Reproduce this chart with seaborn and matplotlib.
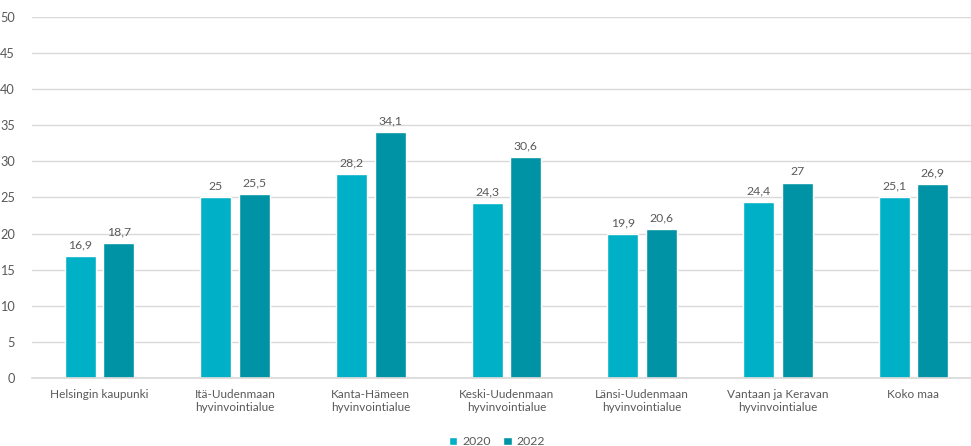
import matplotlib
matplotlib.use("Agg")
import matplotlib.pyplot as plt
import pandas as pd
import seaborn as sns

# values
regions = [
    "Helsingin kaupunki",
    "Itä-Uudenmaan\nhyvinvointialue",
    "Kanta-Hämeen\nhyvinvointialue",
    "Keski-Uudenmaan\nhyvinvointialue",
    "Länsi-Uudenmaan\nhyvinvointialue",
    "Vantaan ja Keravan\nhyvinvointialue",
    "Koko maa",
]
values_2020 = [16.9, 25.0, 28.2, 24.3, 19.9, 24.4, 25.1]
values_2022 = [18.7, 25.5, 34.1, 30.6, 20.6, 27.0, 26.9]
years = ["2020", "2022"]
y_ticks = list(range(0, 51, 5))

colors = {"2020": "#00B0C6", "2022": "#0093A5"}
text_color = "#595959"

df = pd.DataFrame({
    "region": regions * 2,
    "year": [years[0]] * len(regions) + [years[1]] * len(regions),
    "value": values_2020 + values_2022,
})

sns.set_theme(style="white")
plt.rcParams["font.family"] = ["Lato", "DejaVu Sans"]

fig = plt.figure(figsize=(9.71, 4.46), dpi=100)
# plot area runs a bit past the right edge, like the original export
ax = fig.add_axes([0.0326, 0.1525, 0.978, 0.8095])

sns.barplot(data=df, x="region", y="value", hue="year", order=regions,
            hue_order=years, palette=colors, width=0.568, gap=0.197,
            saturation=1, errorbar=None, ax=ax)


def fmt(v):
    s = f"{v:.1f}".replace(".", ",")
    return s[:-2] if s.endswith(",0") else s


for cont in ax.containers:
    ax.bar_label(cont, labels=[fmt(b.get_height()) for b in cont],
                 padding=4, fontsize=8.8, color=text_color)

ax.set_ylim(0, 50)
ax.set_yticks(y_ticks)
ax.set_xlim(-0.5, len(regions) - 0.5)
ax.yaxis.grid(True, color="#D9D9D9", lw=1)
ax.set_axisbelow(True)
for s in ["top", "right", "left"]:
    ax.spines[s].set_visible(False)
ax.spines["bottom"].set_color("#D9D9D9")
ax.tick_params(axis="x", length=0, labelsize=8.5, colors=text_color, pad=8)
ax.tick_params(axis="y", length=0, labelsize=9.2, colors=text_color, pad=12)
ax.set_xlabel("")
ax.set_ylabel("")

ax.legend(loc="lower center", bbox_to_anchor=(0.49, -0.222), ncol=2, frameon=False,
          fontsize=8.8, handlelength=0.7, handleheight=0.7, handletextpad=0.4,
          columnspacing=1.0, labelcolor=text_color)

fig.savefig("out.png", dpi=100)
